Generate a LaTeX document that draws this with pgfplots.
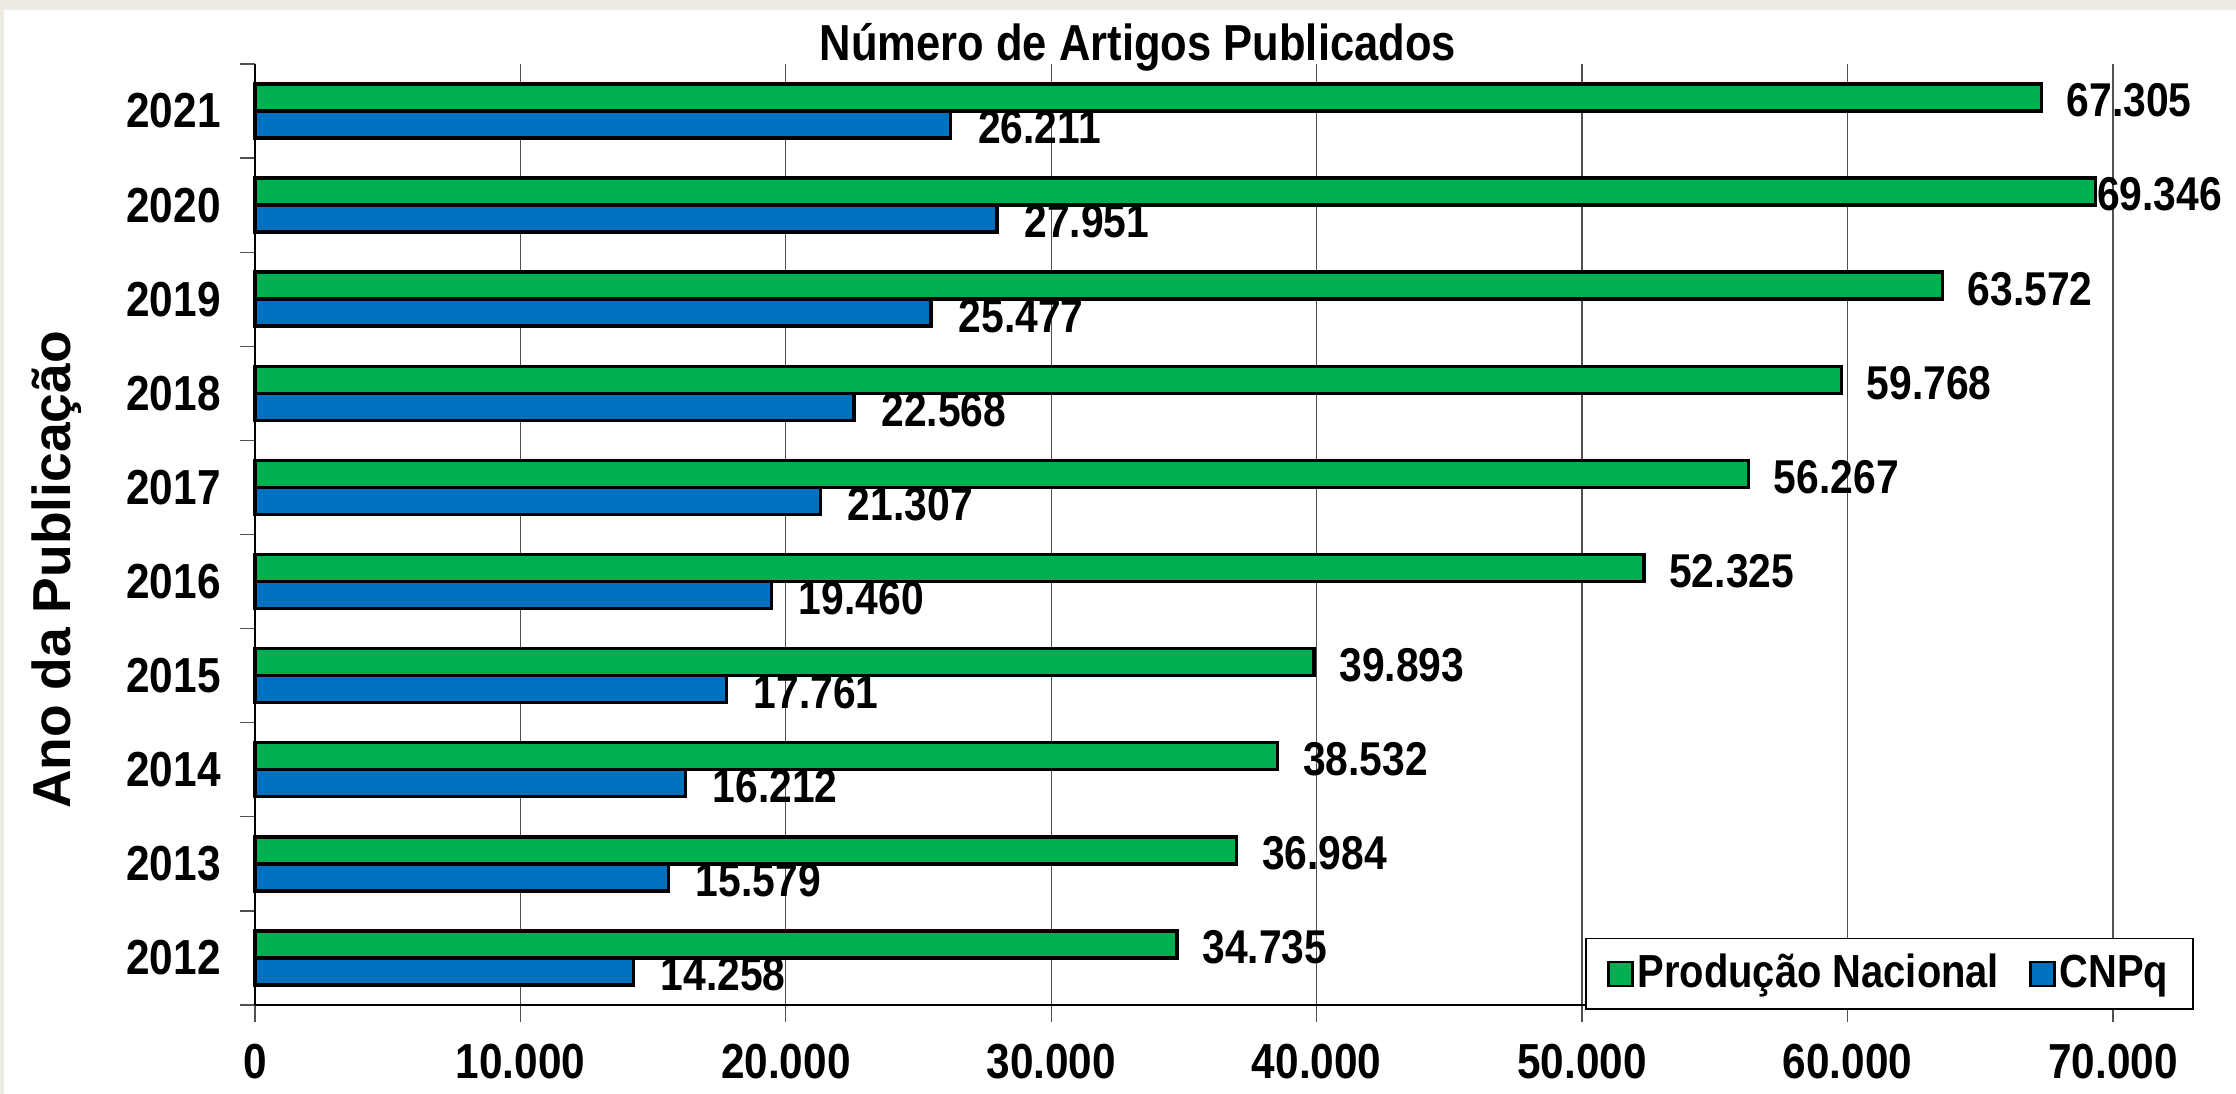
\documentclass[border=0pt]{standalone}
\usepackage{fontspec}
\setmainfont{Liberation Sans}
\newfontfamily\nf{Liberation Sans}[FakeStretch=0.86]
\usepackage{pgfplots}
\usepackage{pgfplotstable}
\pgfplotsset{compat=1.18}
\definecolor{pngreen}{RGB}{0,176,80}
\definecolor{cnblue}{RGB}{0,112,192}
\definecolor{beige}{RGB}{238,235,228}
\definecolor{gridgray}{RGB}{80,80,80}

\pgfplotstableread{
idx pn    cn    dpn  dcn
0   34735 14258 1.2  1.4
1   36984 15579 1.2  1.4
2   38532 16212 1.2  1.4
3   39893 17761 1.2  1.4
4   52325 19460 1.2  1.4
5   56267 21307 1.2  1.4
6   59768 22568 1.2  1.4
7   63572 25477 1.2  1.4
8   69346 27951 -1.2 1.4
9   67305 26211 1.2  1.4
}\data

\begin{document}
\begin{tikzpicture}
\fill[beige] (-25.5mm,-8.9mm) rectangle (198.1mm,100.5mm);
\fill[white] (-25.1mm,-8.9mm) rectangle (198.1mm,99.5mm);
\begin{axis}[
  at={(0,0)}, anchor=south west,
  scale only axis, width=185.8mm, height=94.1mm,
  xbar, bar width=2.7mm,
  xmin=0, xmax=70000, ymin=-0.5, ymax=9.5,
  clip=false,
  axis lines*=left,
  axis line style={black, line width=0.18mm},
  xtick={0,10000,20000,30000,40000,50000,60000,70000},
  scaled x ticks=false,
  /pgf/number format/1000 sep={.},
  /pgf/number format/assume math mode=true,
  xmajorgrids,
  major grid style={gridgray, line width=0.13mm},
  ytick={0,1,2,3,4,5,6,7,8,9},
  yticklabels={2012,2013,2014,2015,2016,2017,2018,2019,2020,2021},
  minor ytick={-0.5,0.5,...,9.5},
  tick align=outside,
  major tick length=1.7mm, minor tick length=1.5mm,
  tick style={gridgray, line width=0.13mm},
  major y tick style={draw=none},
  xticklabel style={font=\nf\bfseries\fontsize{14}{16}\selectfont, yshift=-1mm},
  yticklabel style={font=\nf\bfseries\fontsize{14}{16}\selectfont, xshift=-0.5mm},
  title={Número de Artigos Publicados},
  title style={font=\nf\bfseries\fontsize{14.4}{16}\selectfont, at={(axis description cs:0.4752,1)}, anchor=base, yshift=-1.75mm},
  ylabel={Ano da Publicação},
  ylabel style={font=\bfseries\fontsize{15.2}{17}\selectfont, at={(axis description cs:-0.1066,0.4623)}, anchor=center},
  legend style={at={(axis description cs:1.0436,-0.0053)}, anchor=south east, draw=black, line width=0.15mm,
    font=\nf\bfseries\fontsize{13.2}{15}\selectfont, inner xsep=2.1mm, inner ysep=0.9mm,
    nodes={inner xsep=0.4mm},
    /tikz/every even column/.append style={column sep=2.6mm}},
  legend columns=2,
  legend image code/.code={\draw[#1, line width=0.25mm] (0mm,-1.2mm) rectangle (2.4mm,1.2mm);},
  nodes near coords,
  nodes near coords style={font=\nf\bfseries\fontsize{13.5}{15}\selectfont, text=black, anchor=west, xshift=\dx mm, yshift=-0.3mm},
]
\addplot[fill=pngreen, draw=black, line width=0.35mm, bar shift=1.35mm,
  visualization depends on={\thisrow{dpn} \as \dx}] table[x=pn, y=idx]{\data};
\addplot[fill=cnblue, draw=black, line width=0.35mm, bar shift=-1.35mm,
  visualization depends on={\thisrow{dcn} \as \dx}] table[x=cn, y=idx]{\data};
\legend{Produção Nacional, CNPq}
\end{axis}
\pgfresetboundingbox
\useasboundingbox (-25.5mm,-8.9mm) rectangle (198.1mm,100.5mm);
\end{tikzpicture}
\end{document}
